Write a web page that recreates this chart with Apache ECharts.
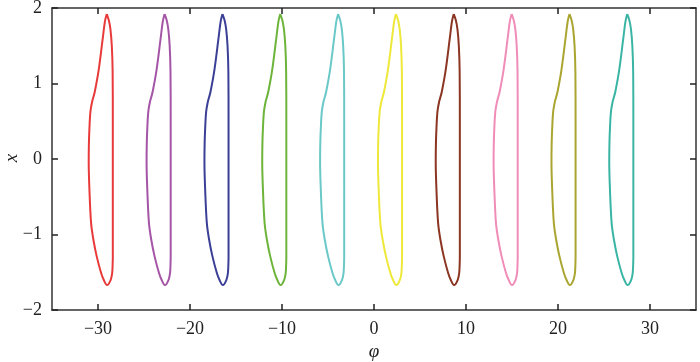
<!DOCTYPE html>
<html>
<head>
<meta charset="utf-8">
<script src="https://cdn.jsdelivr.net/npm/echarts@6/dist/echarts.min.js"></script>
<style>html,body{margin:0;padding:0;background:#fff}#c{width:700px;height:362px}</style>
</head>
<body>
<div id="c"></div>
<script>
// Peak positions (phi) of each loop
var peaks = [-29.05, -22.76, -16.47, -10.19, -3.90, 2.39, 8.67, 14.96, 21.25, 27.53];
var colors = ['#e83a3a', '#a555a5', '#3b3f95', '#6db43b', '#6ac8c8', '#ede83a', '#8b3522', '#f08cb8', '#aaa530', '#3ab5a5'];
// Loop shape: phi offset from the peak, and x value
var shapeDx = [0, 0.22, 0.40, 0.55, 0.64, 0.66, 0.66, 0.66, 0.66, 0.64, 0.59, 0.43, 0.04, -0.33, -0.61, -1.09, -1.45, -1.70, -1.88, -1.96, -1.94, -1.88, -1.77, -1.59, -1.45, -1.30, -0.90, -0.43, -0.20, 0];
var shapeX  = [1.92, 1.84, 1.72, 1.50, 1.16, 0.50, 0.00, -0.60, -1.29, -1.40, -1.51, -1.60, -1.67, -1.60, -1.51, -1.29, -1.07, -0.85, -0.41, -0.04, 0.20, 0.41, 0.63, 0.76, 0.82, 0.89, 1.16, 1.60, 1.82, 1.92];
var xTicks = [-30, -20, -10, 0, 10, 20, 30];
var yTicks = [-2, -1, 0, 1, 2];

var font = 'Liberation Serif';
var series = peaks.map(function (p, i) {
  return {
    type: 'line',
    showSymbol: false,
    smooth: 0.35,
    data: shapeDx.map(function (d, j) { return [p + d, shapeX[j]]; }),
    lineStyle: { color: colors[i], width: 2 },
    itemStyle: { color: colors[i] },
    silent: true
  };
});
var axisLine = { show: true, onZero: false, lineStyle: { color: '#333', width: 1.5 } };
var tickStyle = { show: true, inside: true, length: 6, lineStyle: { color: '#222', width: 1.5 } };
var fmt = function (v) { return String(v).replace('-', '\u2212'); };
var chart = echarts.init(document.getElementById('c'));
chart.setOption({
  animation: false,
  grid: { left: 52, right: 4, top: 8, bottom: 52, containLabel: false, outerBoundsMode: 'none' },
  graphic: [{
    type: 'text', x: 12, y: 158, rotation: Math.PI / 2,
    style: { text: 'x', fontFamily: font, fontSize: 19, fontStyle: 'italic', fill: '#222',
      align: 'center', verticalAlign: 'middle' }
  }],
  xAxis: [{
    type: 'value', min: -35, max: 35, z: 10,
    axisLine: axisLine,
    axisTick: Object.assign({}, tickStyle, { customValues: xTicks }),
    splitLine: { show: false },
    axisLabel: { show: true, fontFamily: font, fontSize: 18, color: '#222', margin: 10,
      customValues: xTicks, formatter: fmt },
    name: 'φ', nameLocation: 'middle', nameGap: 32, nameMoveOverlap: false,
    nameTextStyle: { fontFamily: font, fontSize: 19, fontStyle: 'italic', color: '#222' }
  }, {
    type: 'value', min: -35, max: 35, position: 'top', z: 10,
    axisLine: axisLine, axisTick: Object.assign({}, tickStyle, { customValues: xTicks }),
    axisLabel: { show: false, customValues: xTicks }, splitLine: { show: false }
  }],
  yAxis: [{
    type: 'value', min: -2, max: 2, interval: 1, z: 10,
    axisLine: axisLine, axisTick: tickStyle, splitLine: { show: false },
    axisLabel: { fontFamily: font, fontSize: 18, color: '#222', margin: 10, formatter: fmt }
  }, {
    type: 'value', min: -2, max: 2, interval: 1, position: 'right', z: 10,
    axisLine: axisLine, axisTick: tickStyle, axisLabel: { show: false }, splitLine: { show: false }
  }],
  series: series
});
</script>
</body>
</html>
